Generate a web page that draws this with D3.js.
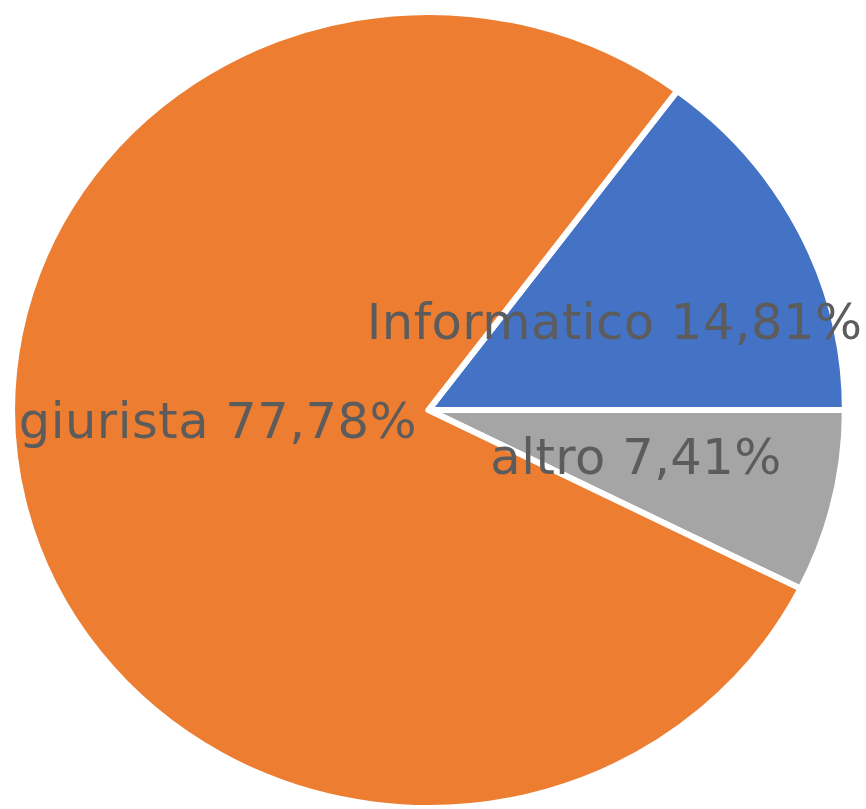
<!DOCTYPE html>
<html>
<head>
<meta charset="utf-8">
<script src="https://cdn.jsdelivr.net/npm/d3@7/dist/d3.min.js"></script>
<style>
html,body{margin:0;padding:0;background:#fff;}
svg{display:block;}
</style>
</head>
<body>
<svg id="chart" width="866" height="809"></svg>
<script>
const categories = ["Informatico", "altro", "giurista"];
const values = [14.81, 7.41, 77.78];
const labels = ["Informatico 14,81%", "altro 7,41%", "giurista 77,78%"];
const colors = ["#4472C4", "#A5A5A5", "#ED7D31"];

const W = 866, H = 809;
const cx = 428.5, cy = 410, ry = 398, rx = 416.5;
const sx = rx / ry;

const svg = d3.select("#chart");
const total = d3.sum(values);
const start = (90 - values[0] / total * 360) * Math.PI / 180;

const pie = d3.pie().sort(null).value(d => d)
  .startAngle(start).endAngle(start + 2 * Math.PI);
const arcs = pie(values);

const arc = d3.arc().innerRadius(0).outerRadius(ry);
const labelArc = d3.arc().innerRadius(ry * 0.5).outerRadius(ry * 0.5);

const g = svg.append("g").attr("transform", `translate(${cx},${cy}) scale(${sx},1)`);
g.selectAll("path").data(arcs).enter().append("path")
  .attr("d", arc)
  .attr("fill", (d, i) => colors[i])
  .attr("stroke", "#fff")
  .attr("stroke-width", 6)
  .attr("stroke-linejoin", "round");

const tg = svg.append("g").attr("transform", `translate(${cx},${cy})`);
const nudge = [[0, 0], [5, 0], [-8, -36]];
tg.selectAll("text").data(arcs).enter().append("text")
  .attr("x", (d, i) => labelArc.centroid(d)[0] * sx + nudge[i][0])
  .attr("y", (d, i) => labelArc.centroid(d)[1] + nudge[i][1])
  .attr("dy", "0.36em")
  .attr("text-anchor", "middle")
  .attr("font-family", "DejaVu Sans")
  .attr("font-size", 49.5)
  .attr("letter-spacing", 0.5)
  .attr("fill", "#5c5c5c")
  .text((d, i) => labels[i]);
</script>
</body>
</html>
